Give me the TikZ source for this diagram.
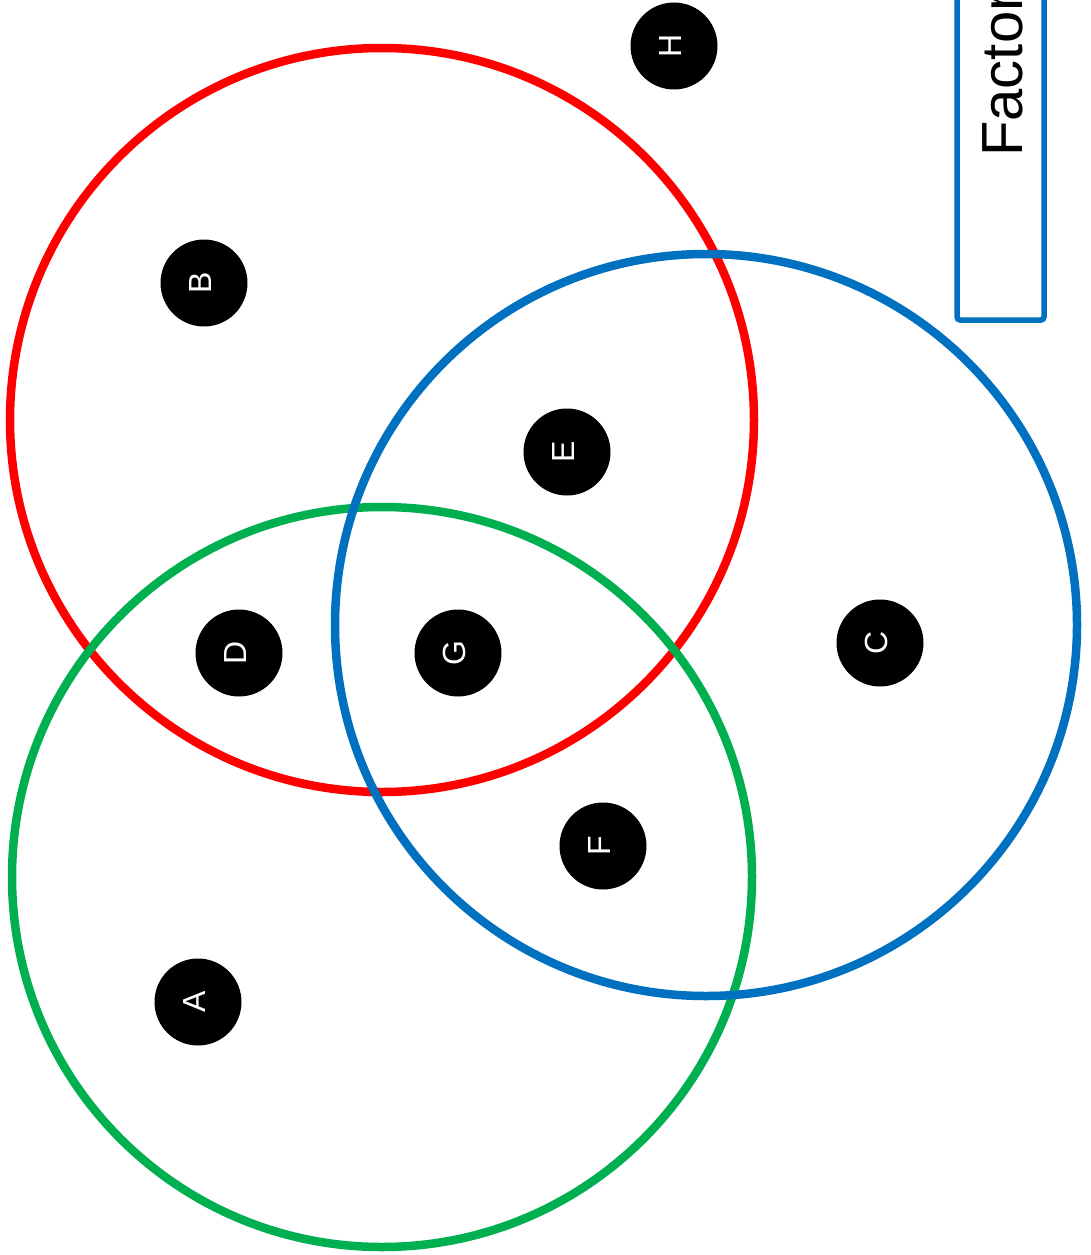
\documentclass[tikz,border=0pt]{standalone}
\usepackage{fontspec}
\setmainfont{Liberation Sans}
\definecolor{vred}{HTML}{FF0000}
\definecolor{vgreen}{HTML}{00B050}
\definecolor{vblue}{HTML}{0070C0}
\newcommand{\itemtext}[1]{\raisebox{-7.5pt}[0pt][0pt]{#1}}
\begin{document}
\begin{tikzpicture}[x=1pt,y=-1pt,
  setring/.style={line width=8.5pt},
  item/.style={circle,fill=black,minimum size=87pt,inner sep=0pt,text=white,rotate=90,font=\fontsize{32}{38}\selectfont},
  legendbox/.style={draw=vblue,line width=5.5pt,rounded corners=3pt}]
\clip (0,0) rectangle (1091,1255);
\fill[white] (0,0) rectangle (1091,1255);
\draw[setring,vred] (382,420) circle[radius=372];
\draw[setring,vgreen] (382,877) circle[radius=370];
\draw[setring,vblue] (706,625) circle[radius=371];
\node[item] (H) at (674,46) {\itemtext{H}};
\node[item] (B) at (204,283) {\itemtext{B}};
\node[item] (E) at (567,452) {\itemtext{E}};
\node[item] (D) at (239,653) {\itemtext{D}};
\node[item] (G) at (458,653) {\itemtext{G}};
\node[item] (C) at (880,643) {\itemtext{C}};
\node[item] (F) at (603,846) {\itemtext{F}};
\node[item] (A) at (198,1002) {\itemtext{A}};
\draw[legendbox] (957,-20) rectangle (1044,320);
\node[rotate=90,anchor=base west,inner sep=0pt,font=\fontsize{58}{70}\selectfont] (legend) at (1022,157) {Factor};
\end{tikzpicture}
\end{document}
